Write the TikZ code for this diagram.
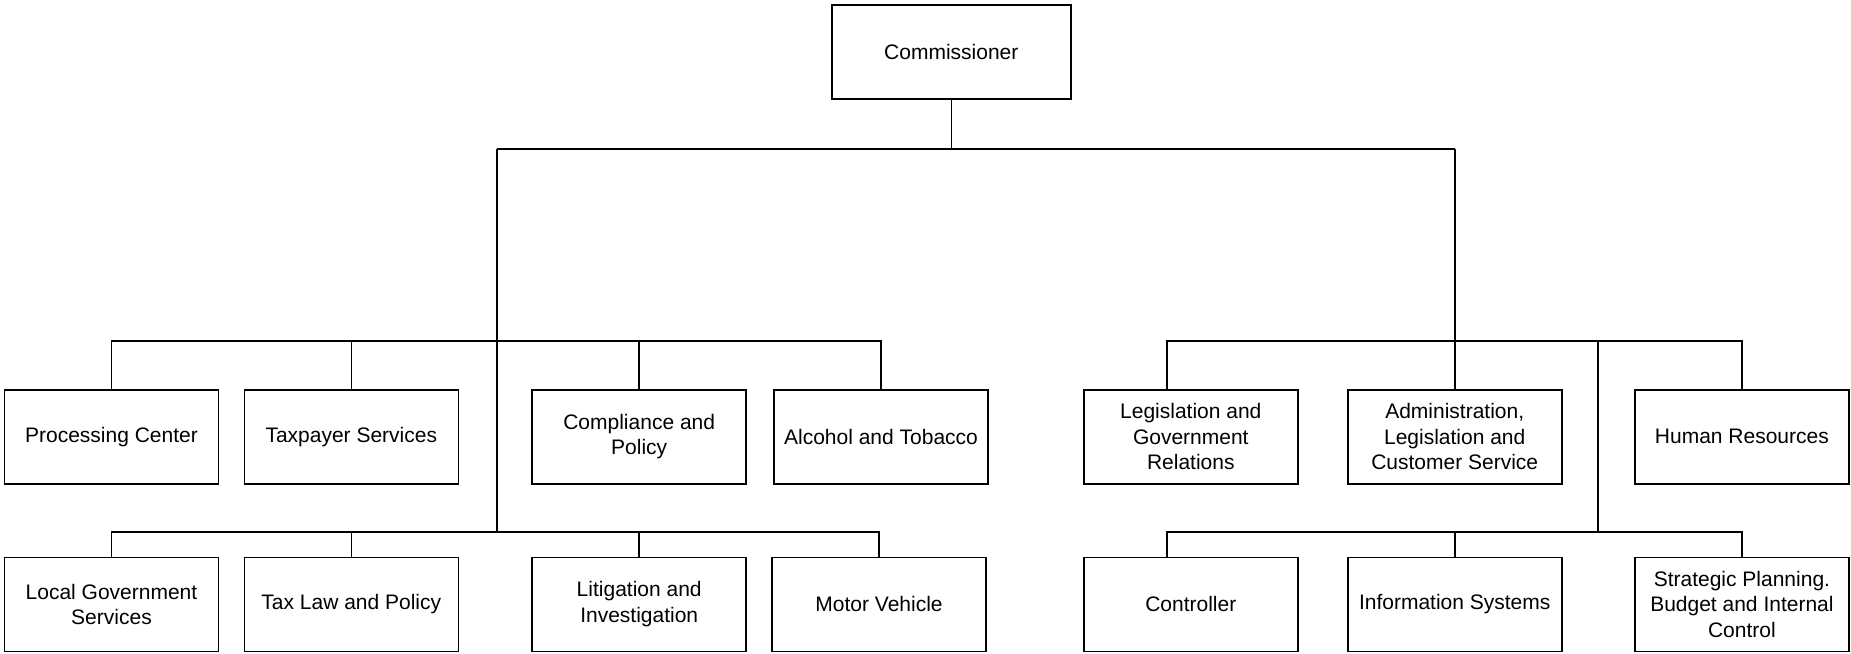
\documentclass[tikz,border=0pt]{standalone}
\usepackage{fontspec}
\setmainfont{Liberation Sans}
\usetikzlibrary{positioning,calc}

\begin{document}
\begin{tikzpicture}[
  x=1pt,y=-1pt,
  font=\fontsize{21}{25.5}\selectfont,
  unit/.style={draw,line width=1.6pt,minimum width=214pt,minimum height=94pt,
               inner sep=2pt,align=center},
  head/.style={unit,minimum width=239pt},
  link/.style={line width=1.6pt},
]
  \useasboundingbox (0,0) rectangle (1851,653);

  % top
  \node[head] (comm) at (951.3,52) {Commissioner};

  % first row
  \node[unit] (proc)  at (111.5,436.7)  {Processing Center};
  \node[unit] (tax)   at (351.3,436.7)  {Taxpayer Services};
  \node[unit] (comp)  at (639.2,436.7)  {Compliance and\\Policy};
  \node[unit] (alc)   at (881,436.7)    {Alcohol and Tobacco};
  \node[unit] (leg)   at (1190.8,436.7) {Legislation and\\Government\\Relations};
  \node[unit] (adm)   at (1454.7,436.7) {Administration,\\Legislation and\\Customer Service};
  \node[unit] (hr)    at (1741.9,436.7) {Human Resources};

  % second row
  \node[unit] (local)  at (111.5,604.3)  {Local Government\\Services};
  \node[unit] (taxlaw) at (351.3,604.3)  {Tax Law and Policy};
  \node[unit] (litig)  at (639.2,604.3)  {Litigation and\\Investigation};
  \node[unit] (motor)  at (879,604.3)    {Motor Vehicle};
  \node[unit] (ctrl)   at (1190.8,604.3) {Controller};
  \node[unit] (info)   at (1454.7,604.3) {Information Systems};
  \node[unit] (strat)  at (1741.9,604.3) {Strategic Planning.\\Budget and Internal\\Control};

  % junctions
  \coordinate (topL) at (496.7,149);
  \coordinate (topR) at (1454.7,149);
  \coordinate (brL1) at (496.7,340.7);
  \coordinate (brL2) at (496.7,532);
  \coordinate (subR) at (1598,340.7);
  \coordinate (brR2) at (1598,532);

  \draw[link] (comm.south) -- (comm.south |- topL);
  \draw[link] (topL) -- (topR);

  % left branch
  \draw[link] (topL) -- (brL2);
  \draw[link] (proc.north) -- (proc.north |- brL1) -| (alc.north);
  \draw[link] (tax.north) -- (tax.north |- brL1);
  \draw[link] (comp.north) -- (comp.north |- brL1);
  \draw[link] (local.north) -- (local.north |- brL2) -| (motor.north);
  \draw[link] (taxlaw.north) -- (taxlaw.north |- brL2);
  \draw[link] (litig.north) -- (litig.north |- brL2);

  % right branch
  \draw[link] (topR) -- (adm.north);
  \draw[link] ([xshift=-23.7pt]leg.north) |- (hr.north |- subR) -- (hr.north);
  \draw[link] (subR) -- (brR2);
  \draw[link] ([xshift=-23.7pt]ctrl.north) |- (strat.north |- brR2) -- (strat.north);
  \draw[link] (info.north) -- (info.north |- brR2);
\end{tikzpicture}
\end{document}
